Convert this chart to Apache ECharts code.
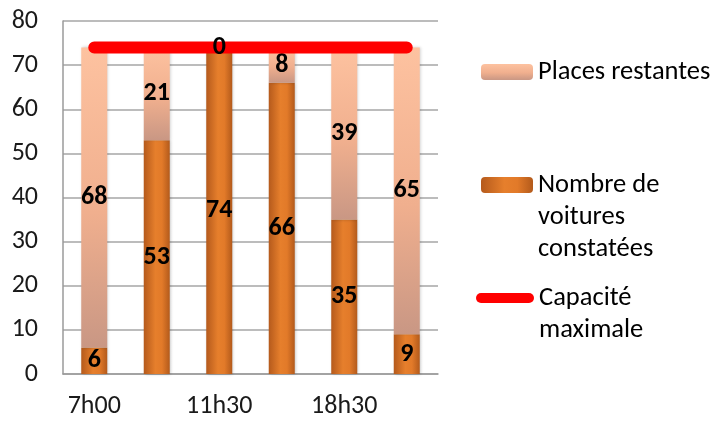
<!DOCTYPE html>
<html>
<head>
<meta charset="utf-8">
<script src="https://cdn.jsdelivr.net/npm/echarts@6/dist/echarts.min.js"></script>
<style>
  html, body { margin: 0; padding: 0; background: #ffffff; }
  #chart { width: 717px; height: 421px; }
</style>
</head>
<body>
<div id="chart"></div>
<script>
// Parking occupancy by time slot
const categories = ['7h00', '9h00', '11h30', '14h00', '18h30', '20h00'];
const voitures = [6, 53, 74, 66, 35, 9];          // Nombre de voitures constatées
const placesRestantes = [68, 21, 0, 8, 39, 65];   // Places restantes
const capacite = [74, 74, 74, 74, 74, 74];        // Capacité maximale
const yTicks = { min: 0, max: 80, interval: 10 };

const FONT = 'Carlito, Calibri, Lato, sans-serif';

const orangeFill = {
  type: 'linear', x: 0, y: 0, x2: 1, y2: 0,
  colorStops: [
    { offset: 0, color: '#b55a1c' },
    { offset: 0.45, color: '#e67f2c' },
    { offset: 0.7, color: '#e27a29' },
    { offset: 1, color: '#b35a1b' }
  ]
};
const peachFill = {
  type: 'linear', x: 0, y: 0, x2: 0, y2: 1,
  colorStops: [
    { offset: 0, color: '#fdc2a0' },
    { offset: 0.55, color: '#f0af8e' },
    { offset: 1, color: '#c99784' }
  ]
};

const barLabel = {
  show: true,
  position: 'inside',
  color: '#000000',
  fontFamily: FONT,
  fontWeight: 'bold',
  fontSize: 26
};

const legendText = { fontFamily: FONT, fontSize: 26.5, color: '#000000', lineHeight: 32 };
const pillIcon = 'path://M5,0 H53 A5,5 0 0 1 53,10 H5 A5,5 0 0 1 5,0 Z';

const option = {
  animation: false,
  backgroundColor: '#ffffff',
  grid: { left: 63, right: 279, top: 21, bottom: 47, containLabel: false },
  legend: [
    {
      orient: 'vertical', left: 481, top: 56, padding: 0,
      itemWidth: 52, itemHeight: 16,
      data: ['Places restantes'],
      textStyle: legendText
    },
    {
      orient: 'vertical', left: 481, top: 105, padding: 0,
      itemWidth: 52, itemHeight: 16,
      data: ['Nombre de voitures constatées'],
      // leading blank lines keep the first text line level with the icon
      formatter: () => '\n\nNombre de\nvoitures\nconstatées',
      textStyle: legendText
    },
    {
      orient: 'vertical', left: 476, top: 250, padding: 0,
      itemWidth: 58, itemHeight: 10,
      data: [{ name: 'Capacité maximale', icon: pillIcon, itemStyle: { color: '#ff0000' } }],
      formatter: () => '\nCapacité\nmaximale',
      textStyle: legendText
    }
  ],
  xAxis: {
    type: 'category',
    data: categories,
    boundaryGap: true,
    axisLine: { show: true, lineStyle: { color: '#9a9a9a', width: 1.5 } },
    axisTick: { show: false },
    axisLabel: { interval: 1, margin: 19, color: '#1a1a1a', fontFamily: FONT, fontSize: 26 }
  },
  yAxis: {
    type: 'value',
    min: yTicks.min, max: yTicks.max, interval: yTicks.interval,
    axisLine: { show: true, lineStyle: { color: '#9a9a9a', width: 1.5 } },
    axisTick: { show: false },
    axisLabel: { margin: 25, color: '#1a1a1a', fontFamily: FONT, fontSize: 26 },
    splitLine: { show: true, lineStyle: { color: '#a6a6a6', width: 1.5 } }
  },
  series: [
    {
      name: 'Nombre de voitures constatées',
      type: 'bar', stack: 'total', barWidth: 26, z: 2,
      data: voitures,
      itemStyle: { color: orangeFill, shadowColor: 'rgba(0,0,0,0.25)', shadowBlur: 3, shadowOffsetX: 1 },
      label: barLabel
    },
    {
      name: 'Places restantes',
      type: 'bar', stack: 'total', barWidth: 26, z: 2,
      data: placesRestantes,
      itemStyle: { color: peachFill, shadowColor: 'rgba(0,0,0,0.2)', shadowBlur: 3, shadowOffsetX: 1 },
      // zero-height segments get their label from the capacity line instead
      label: Object.assign({}, barLabel, { formatter: p => p.value === 0 ? '' : String(p.value) })
    },
    {
      name: 'Capacité maximale',
      type: 'line', z: 3,
      data: capacite,
      symbol: 'circle', symbolSize: 1, showSymbol: true,
      lineStyle: { color: '#ff0000', width: 12, cap: 'round' },
      itemStyle: { color: '#ff0000' },
      label: Object.assign({}, barLabel, {
        position: 'inside',
        formatter: p => placesRestantes[p.dataIndex] === 0 ? String(placesRestantes[p.dataIndex]) : ''
      })
    }
  ]
};

const chart = echarts.init(document.getElementById('chart'), null, { renderer: 'canvas' });
chart.setOption(option);
</script>
</body>
</html>
